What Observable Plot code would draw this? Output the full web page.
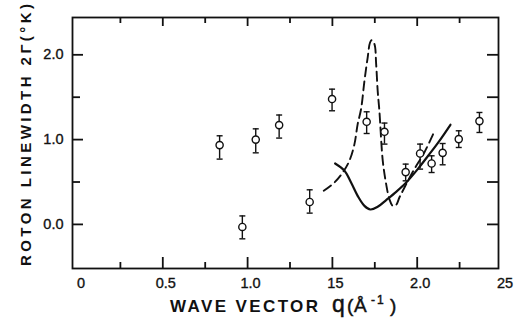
<!DOCTYPE html>
<html><head><meta charset="utf-8">
<script src="https://cdn.jsdelivr.net/npm/d3@7"></script>
<script src="https://cdn.jsdelivr.net/npm/@observablehq/plot@0.6"></script>
<style>body{margin:0;background:#fff}</style>
</head><body><div id="chart"></div>
<script>
// Measured data points (wave vector q, roton linewidth 2Γ, error bar ends)
const qVals    = [0.835, 0.969, 1.048, 1.186, 1.366, 1.498, 1.702, 1.807, 1.932, 2.017, 2.085, 2.150, 2.245, 2.367];
const widthVals= [0.935, -0.03, 1.000, 1.171, 0.264, 1.478, 1.210, 1.092, 0.617, 0.836, 0.718, 0.844, 1.006, 1.218];
const errHi    = [1.045, 0.100, 1.127, 1.290, 0.408, 1.595, 1.328, 1.195, 0.711, 0.947, 0.809, 0.954, 1.104, 1.320];
const errLo    = [0.770, -0.170, 0.844, 1.018, 0.133, 1.340, 1.072, 0.947, 0.514, 0.652, 0.612, 0.703, 0.907, 1.084];

// Dashed theory curve
const dashQ = [1.449, 1.512, 1.561, 1.600, 1.630, 1.649, 1.669, 1.689, 1.708, 1.722, 1.732, 1.748, 1.758, 1.767, 1.777, 1.797, 1.817, 1.836, 1.856, 1.876, 1.895, 1.925, 1.983, 2.042, 2.101];
const dashW = [0.396, 0.494, 0.612, 0.750, 0.947, 1.183, 1.360, 1.693, 1.968, 2.145, 2.173, 2.126, 1.890, 1.575, 1.340, 0.750, 0.475, 0.298, 0.219, 0.231, 0.317, 0.435, 0.652, 0.848, 1.096];

// Solid theory curve
const solidQ = [1.516, 1.571, 1.610, 1.649, 1.689, 1.724, 1.767, 1.817, 1.876, 1.935, 2.003, 2.072, 2.131, 2.196];
const solidW = [0.718, 0.632, 0.494, 0.337, 0.219, 0.176, 0.208, 0.287, 0.384, 0.494, 0.652, 0.829, 0.986, 1.175];

// Axis ticks and labels
const xTickVals   = [0, 0.5, 1.0, 1.5, 2.0, 2.5];
const xTickLabels = ["0", "0.5", "1.0", "15", "2.0", "25"];
const xMajorTicks = [0.5, 1.0, 1.5, 2.0];
const xMinorTicks = [0.25, 0.75, 1.25, 1.75, 2.25];
const yTickVals   = [0, 1, 2];
const yTickLabels = ["0.0", "1.0", "2.0"];
const yMinorTicks = [0.5, 1.5];
const yAllTicks   = [0, 0.5, 1, 1.5, 2];
const xTitle = "WAVE VECTOR";
const yTitle = "ROTON LINEWIDTH 2Γ(°K)";

const points = qVals.map((q, i) => ({q, w: widthVals[i], hi: errHi[i], lo: errLo[i]}));
const dashed = dashQ.map((q, i) => ({q, w: dashW[i]}));
const solid = solidQ.map((q, i) => ({q, w: solidW[i]}));

const W = 516, H = 322, mL = 72, mR = 18, mT = 17, mB = 54;
const plotW = W - mL - mR, plotH = H - mT - mB;
const capSymbol = {draw(ctx, size) { const r = Math.sqrt(size / Math.PI); ctx.moveTo(-r, 0); ctx.lineTo(r, 0); }};
const ink = "#111111";
const tk = {stroke: ink, strokeWidth: 1.8};

const plot = Plot.plot({
  width: W, height: H,
  marginLeft: mL, marginRight: mR, marginTop: mT, marginBottom: mB,
  x: {domain: [0, 2.5], range: [77.5, 501.5]},
  y: {domain: [-0.52, 2.44]},
  style: {fontFamily: "'Liberation Sans', Arial, sans-serif", fontSize: "14px", color: ink, background: "white", overflow: "visible"},
  marks: [
    Plot.frame({stroke: ink, strokeWidth: 1.8, fill: "none"}),
    // inward tick marks
    Plot.ruleX(xMajorTicks, {x: d => d, insetTop: plotH - 11, ...tk}),
    Plot.ruleX(xMinorTicks, {x: d => d, insetTop: plotH - 6, ...tk}),
    Plot.ruleX(xMajorTicks, {x: d => d, insetBottom: plotH - 9, ...tk}),
    Plot.ruleX(xMinorTicks, {x: d => d, insetBottom: plotH - 6, ...tk}),
    Plot.ruleY(yTickVals, {y: d => d, insetRight: plotW - 11, ...tk}),
    Plot.ruleY(yMinorTicks, {y: d => d, insetRight: plotW - 8, ...tk}),
    Plot.ruleY(yAllTicks, {y: d => d, insetLeft: plotW - 11, ...tk}),
    // tick labels
    Plot.axisX(xTickVals, {anchor: "bottom", tickSize: 0, tickPadding: 9, dx: 3, label: null,
      tickFormat: d => xTickLabels[xTickVals.indexOf(d)], fontSize: 14.5, letterSpacing: 1}),
    Plot.axisY(yTickVals, {anchor: "left", tickSize: 0, tickPadding: 9, label: null,
      tickFormat: d => yTickLabels[yTickVals.indexOf(d)], fontSize: 14.5, letterSpacing: 1}),
    // theory curves
    Plot.line(dashed, {x: "q", y: "w", curve: "catmull-rom", stroke: ink, strokeWidth: 1.9, strokeDasharray: "9,5"}),
    Plot.line(solid, {x: "q", y: "w", curve: "catmull-rom", stroke: ink, strokeWidth: 2.2}),
    // error bars
    Plot.ruleX(points, {x: "q", y1: "lo", y2: "hi", stroke: ink, strokeWidth: 1.4}),
    Plot.dot(points, {x: "q", y: "hi", symbol: capSymbol, r: 3, stroke: ink, strokeWidth: 1.4}),
    Plot.dot(points, {x: "q", y: "lo", symbol: capSymbol, r: 3, stroke: ink, strokeWidth: 1.4}),
    Plot.dot(points, {x: "q", y: "w", r: 3.6, fill: "white", stroke: ink, strokeWidth: 1.4})
  ]
});

const svg = d3.select(plot);
svg.selectAll("g[aria-label='x-axis tick label'] text, g[aria-label='y-axis tick label'] text")
  .style("stroke", ink).style("stroke-width", "0.35px");

const font = "'Liberation Sans', Arial, sans-serif";
const xt = svg.append("text")
  .attr("x", 170).attr("y", 312)
  .attr("text-anchor", "start")
  .attr("fill", ink)
  .style("font-family", font);
xt.append("tspan").attr("x", 170).attr("textLength", 148).attr("lengthAdjust", "spacing")
  .text(xTitle).style("font-size", "17px").style("font-weight", "bold");
const thin = s => s.style("stroke", ink).style("stroke-width", "0.45px");
thin(xt.append("tspan").attr("x", 332).text("q").style("font-size", "23px"));
thin(xt.append("tspan").attr("x", 347).text("(").style("font-size", "19px"));
thin(xt.append("tspan").attr("x", 354).text("Å").style("font-size", "19px"));
thin(xt.append("tspan").attr("x", 371).attr("dy", -8).text("-1").style("font-size", "12px").style("letter-spacing", "2px"));
thin(xt.append("tspan").attr("x", 390).attr("dy", 8).text(")").style("font-size", "19px"));

svg.append("text")
  .attr("transform", "translate(31,266) rotate(-90)")
  .attr("text-anchor", "start")
  .attr("textLength", 262).attr("lengthAdjust", "spacing")
  .attr("fill", ink)
  .style("font-family", font)
  .style("font-size", "15px")
  .style("font-weight", "600")
  .text(yTitle);

document.getElementById("chart").appendChild(plot);
</script>
</body></html>
